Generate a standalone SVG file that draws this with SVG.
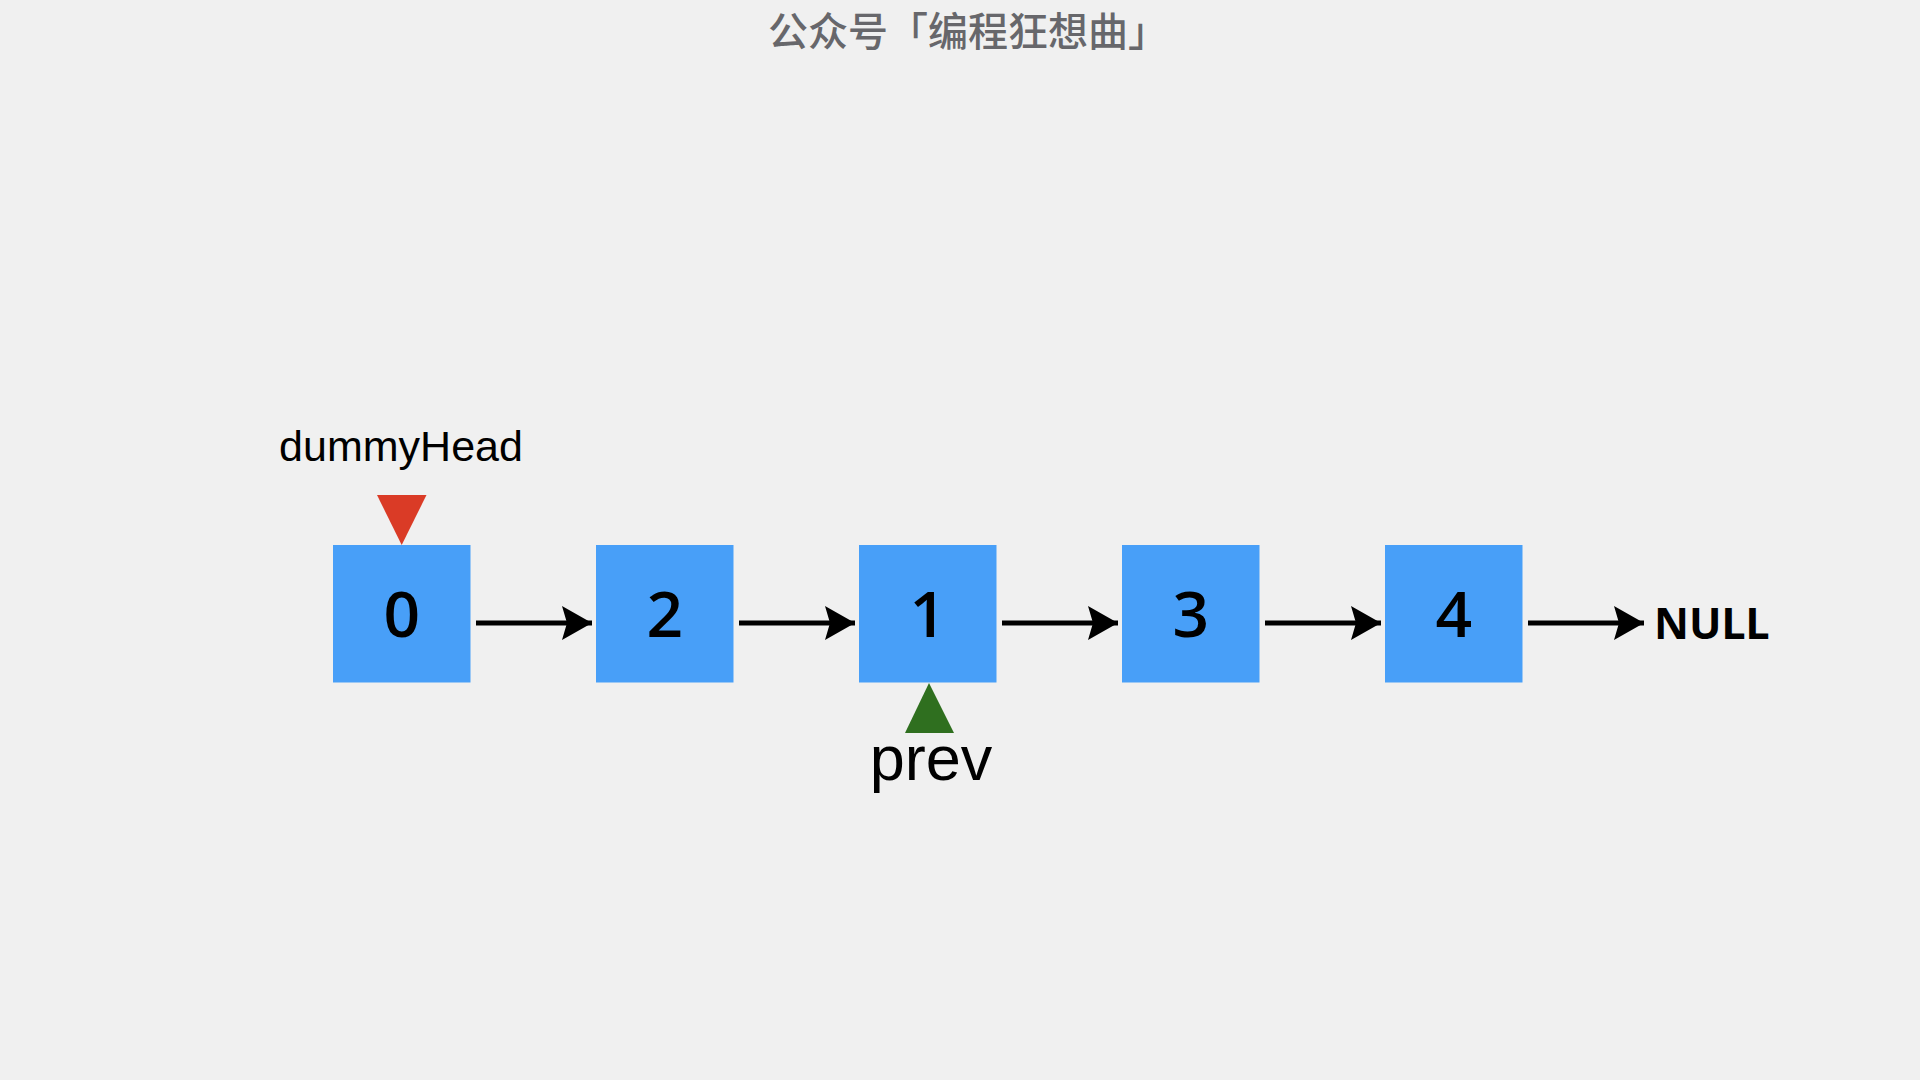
<svg xmlns="http://www.w3.org/2000/svg" width="1920" height="1080" viewBox="0 0 1920 1080">
<style>
.box{fill:#489FF8}
.num{font-family:"Open Sans","Noto Sans","Liberation Sans",sans-serif;font-weight:600;font-size:64px;fill:#000;text-anchor:middle}
.lbl{font-family:"Liberation Sans",Arial,sans-serif;fill:#000;text-anchor:middle}
.edge{stroke:#000;stroke-width:5;fill:none;stroke-linecap:butt}
</style>
<defs>
<marker id="ah" markerWidth="8" markerHeight="8" refX="7" refY="4" orient="auto" markerUnits="strokeWidth" viewBox="0 0 8 8">
<path d="M1,0.6 L7,4 L1,7.4 L2,4 Z" fill="#000"/>
</marker>
</defs>
<rect width="1920" height="1080" fill="#F0F0F0"/>
<text x="968" y="46" font-family="Noto Sans CJK SC, sans-serif" font-weight="500" font-size="40" fill="#67676B" text-anchor="middle">公众号「编程狂想曲」</text>
<g id="node0"><rect class="box" x="333" y="545" width="137.5" height="137.5"/><text class="num" x="401.7" y="637">0</text></g>
<g id="node2"><rect class="box" x="596" y="545" width="137.5" height="137.5"/><text class="num" x="664.7" y="637">2</text></g>
<g id="node1"><rect class="box" x="859" y="545" width="137.5" height="137.5"/><text class="num" x="927.7" y="637">1</text></g>
<g id="node3"><rect class="box" x="1122" y="545" width="137.5" height="137.5"/><text class="num" x="1190.7" y="637">3</text></g>
<g id="node4"><rect class="box" x="1385" y="545" width="137.5" height="137.5"/><text class="num" x="1453.7" y="637">4</text></g>
<g id="null"><text x="1654" y="639" font-family="Noto Sans, Liberation Sans, sans-serif" font-weight="700" font-size="43" fill="#000">NULL</text></g>
<g id="dummyHead"><text class="lbl" x="401" y="461" font-size="43">dummyHead</text><polygon points="377,495 426.5,495 401.7,545" fill="#DA3B26"/></g>
<g id="prev"><polygon points="929,683 905,733 954,733" fill="#2F6F1F"/><text class="lbl" x="931" y="780" font-size="63">prev</text></g>
<g id="connectors">
<line class="edge" x1="476" y1="623" x2="592" y2="623" marker-end="url(#ah)"/>
<line class="edge" x1="739" y1="623" x2="855" y2="623" marker-end="url(#ah)"/>
<line class="edge" x1="1002" y1="623" x2="1118" y2="623" marker-end="url(#ah)"/>
<line class="edge" x1="1265" y1="623" x2="1381" y2="623" marker-end="url(#ah)"/>
<line class="edge" x1="1528" y1="623" x2="1644" y2="623" marker-end="url(#ah)"/>
</g>
</svg>
